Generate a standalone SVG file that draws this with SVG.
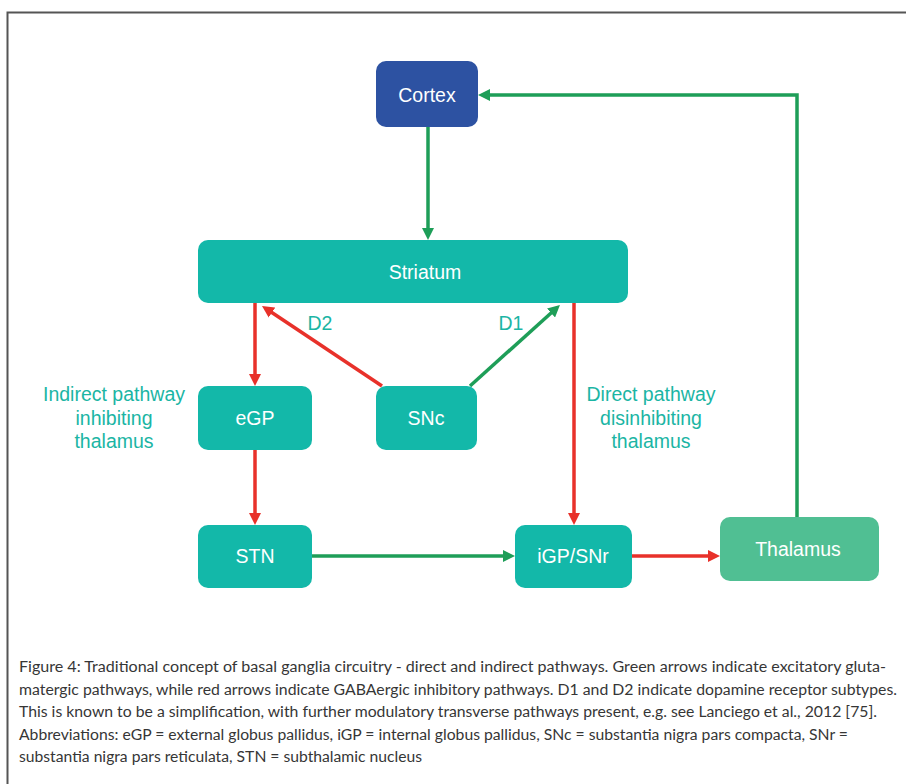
<svg xmlns="http://www.w3.org/2000/svg" width="906" height="784" viewBox="0 0 906 784">
  <defs>
    <marker id="ag" markerWidth="14" markerHeight="12" refX="6" refY="6" orient="auto" markerUnits="userSpaceOnUse">
      <path d="M0,0 L12,6 L0,12 z" fill="#1E9E58"/>
    </marker>
    <marker id="ar" markerWidth="14" markerHeight="12" refX="6" refY="6" orient="auto" markerUnits="userSpaceOnUse">
      <path d="M0,0 L12,6 L0,12 z" fill="#E8312A"/>
    </marker>
  </defs>
  <style>
    .node rect { fill: #13B8A9; }
    .node text { fill: #FFFFFF; font-family: "Liberation Sans", Arial, sans-serif; font-size: 19.5px; text-anchor: middle; }
    .lbl { fill: #1BB5A4; font-family: "Liberation Sans", Arial, sans-serif; font-size: 19.5px; text-anchor: middle; }
    .g { fill: none; stroke: #1E9E58; stroke-width: 3.5; marker-end: url(#ag); }
    .r { fill: none; stroke: #E8312A; stroke-width: 3.5; marker-end: url(#ar); }
    .cap { fill: #363636; font-family: Lato, "Open Sans", sans-serif; font-size: 14.5px; }
  </style>
  <rect x="0" y="0" width="906" height="784" fill="#FFFFFF"/>
  <path d="M7.5,784 V12.5 H906" fill="none" stroke="#555555" stroke-width="2"/>

  <g id="connectors">
    <path class="g" d="M428,127 V234"/>
    <path class="g" d="M797,517 V95 H484"/>
    <path class="r" d="M255,303 V380"/>
    <path class="r" d="M255,450 V519"/>
    <path class="r" d="M574,303 V519"/>
    <path class="r" d="M382,386 L267,309.3"/>
    <path class="g" d="M470,386 L555.5,309"/>
    <path class="g" d="M312,556 H509"/>
    <path class="r" d="M632,556 H714"/>
  </g>

  <g id="cortex" class="node">
    <rect x="376" y="61" width="102" height="66" rx="10" style="fill:#2D52A2"/>
    <text x="427" y="102">Cortex</text>
  </g>
  <g id="striatum" class="node">
    <rect x="198" y="240" width="430" height="63" rx="10"/>
    <text x="425" y="279">Striatum</text>
  </g>
  <g id="egp" class="node">
    <rect x="198" y="386" width="114" height="64" rx="10"/>
    <text x="255" y="425">eGP</text>
  </g>
  <g id="snc" class="node">
    <rect x="376" y="386" width="101" height="64" rx="10"/>
    <text x="426" y="425">SNc</text>
  </g>
  <g id="stn" class="node">
    <rect x="198" y="525" width="114" height="63" rx="10"/>
    <text x="255" y="563">STN</text>
  </g>
  <g id="igp" class="node">
    <rect x="515" y="525" width="117" height="63" rx="10"/>
    <text x="573" y="563">iGP/SNr</text>
  </g>
  <g id="thalamus" class="node">
    <rect x="720" y="517" width="159" height="64" rx="10" style="fill:#50BF93"/>
    <text x="798" y="556">Thalamus</text>
  </g>

  <g id="labels">
    <text class="lbl" x="320" y="330">D2</text>
    <text class="lbl" x="511" y="330">D1</text>
    <text class="lbl" x="114" y="401">Indirect pathway</text>
    <text class="lbl" x="114" y="425">inhibiting</text>
    <text class="lbl" x="114" y="448">thalamus</text>
    <text class="lbl" x="651" y="401">Direct pathway</text>
    <text class="lbl" x="651" y="425">disinhibiting</text>
    <text class="lbl" x="651" y="448">thalamus</text>
  </g>

  <g id="caption">
    <text class="cap" x="19" y="672" textLength="867" lengthAdjust="spacingAndGlyphs">Figure 4: Traditional concept of basal ganglia circuitry - direct and indirect pathways. Green arrows indicate excitatory gluta-</text>
    <text class="cap" x="19" y="694.5" textLength="878" lengthAdjust="spacingAndGlyphs">matergic pathways, while red arrows indicate GABAergic inhibitory pathways. D1 and D2 indicate dopamine receptor subtypes.</text>
    <text class="cap" x="19" y="717" textLength="858" lengthAdjust="spacingAndGlyphs">This is known to be a simplification, with further modulatory transverse pathways present, e.g. see Lanciego et al., 2012 [75].</text>
    <text class="cap" x="19" y="739.5" textLength="829" lengthAdjust="spacingAndGlyphs">Abbreviations: eGP = external globus pallidus, iGP = internal globus pallidus, SNc = substantia nigra pars compacta, SNr =</text>
    <text class="cap" x="19" y="762" textLength="403" lengthAdjust="spacingAndGlyphs">substantia nigra pars reticulata, STN = subthalamic nucleus</text>
  </g>
</svg>
